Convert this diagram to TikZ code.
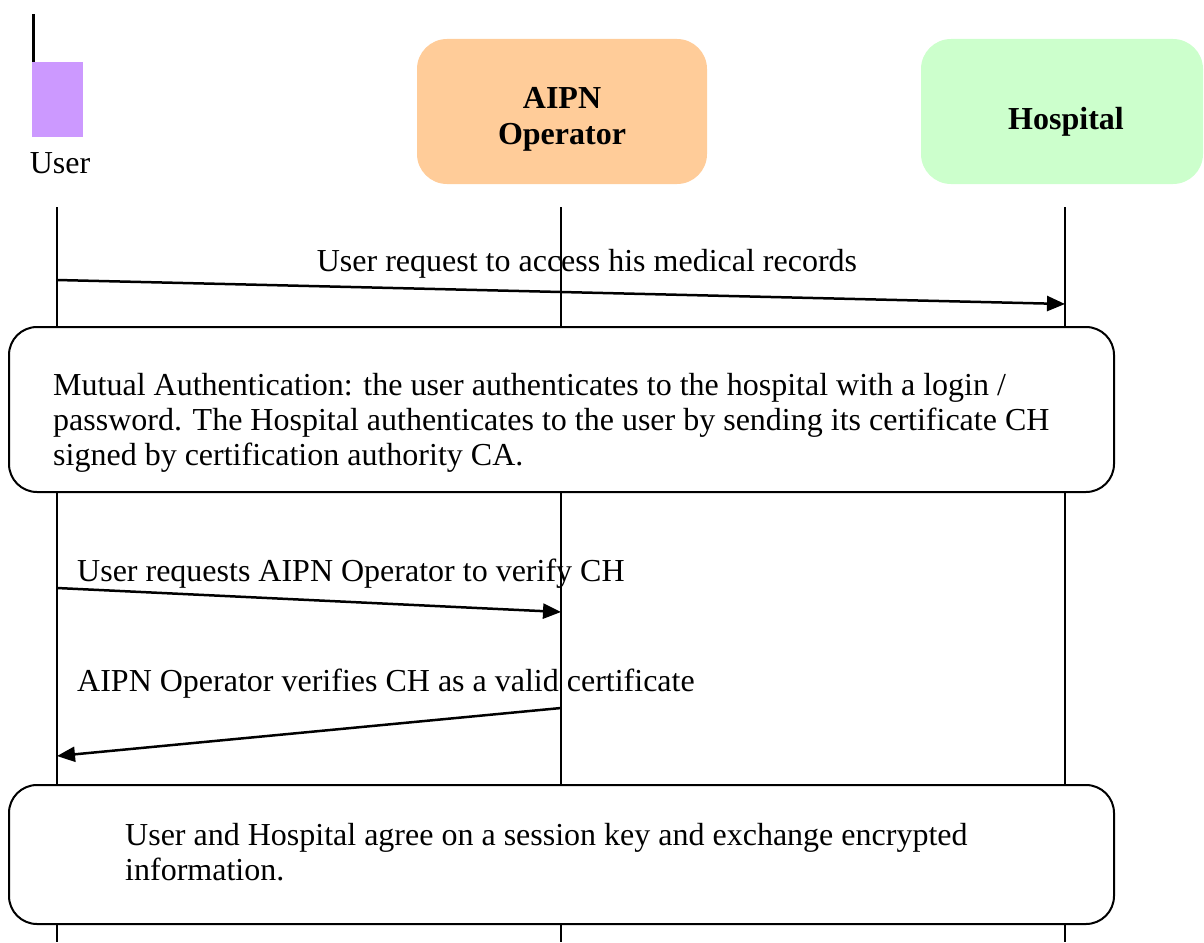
\documentclass[tikz,border=0pt]{standalone}
\usepackage{fontspec}
\setmainfont{Liberation Serif}
\usetikzlibrary{arrows.meta}
\definecolor{userpurple}{HTML}{CC99FF}
\definecolor{aipnorange}{HTML}{FFCC99}
\definecolor{hospgreen}{HTML}{CCFFCC}
\begin{document}
\begin{tikzpicture}[x=1pt,y=-1pt,
  headbox/.style={rounded corners=30pt, minimum height=145pt, inner sep=0pt},
  headlbl/.style={inner sep=0pt, align=center, font=\fontsize{32}{36}\selectfont\bfseries},
  life/.style={line width=1.5pt},
  msg/.style={line width=2.5pt, -{Triangle[length=18pt,width=15pt]}},
  notebox/.style={draw, line width=2pt, fill=white, rounded corners=28pt, inner sep=0pt},
  lbl/.style={font=\fontsize{32}{35}\selectfont, inner sep=0pt},
]
\useasboundingbox (0,0) rectangle (1204,942);

% heads
\node[fill=userpurple, minimum width=51pt, minimum height=75pt, inner sep=0pt] (user) at (57.5,99.5) {};
\draw[line width=3pt] ([xshift=1.5pt]user.north west) -- ++(0,-48);
\node[lbl, anchor=base] (userlbl) at (60,173) {User};
\node[headbox, fill=aipnorange, minimum width=290pt] (aipn) at (562,111.5) {};
\node[headlbl] (aipnlbl) at ([yshift=-8pt]aipn.center) {AIPN\\Operator};
\node[headbox, fill=hospgreen, minimum width=282pt] (hosp) at (1062,111.5) {};
\node[headlbl] (hosplbl) at ([xshift=4pt,yshift=-10pt]hosp.center) {Hospital};

% lifelines
\coordinate (uTop) at (57,207);  \coordinate (uBot) at (57,942);
\coordinate (aTop) at (561,207); \coordinate (aBot) at (561,942);
\coordinate (hTop) at (1065,207); \coordinate (hBot) at (1065,942);
\draw[life] (uTop) -- (uBot);
\draw[life] (aTop) -- (aBot);
\draw[life] (hTop) -- (hBot);

% message 1
\coordinate (m1s) at (57,280); \coordinate (m1e) at (1065,304);
\draw[msg] (m1s) -- (m1e);
\node[lbl, anchor=base] (m1l) at (587,271) {User request to access his medical records};

% note 1
\node[notebox, minimum width=1105pt, minimum height=165pt] (note1) at (561.5,409.5) {};
\node[lbl, anchor=base west] (n1a) at (53,395) {Mutual Authentication: the user authenticates to the hospital with a login /};
\node[lbl, anchor=base west] (n1b) at (53,430) {password. The Hospital authenticates to the user by sending its certificate CH};
\node[lbl, anchor=base west] (n1c) at (53,465) {signed by certification authority CA.};

% message 2
\coordinate (m2s) at (57,588); \coordinate (m2e) at (561,612);
\draw[msg] (m2s) -- (m2e);
\node[lbl, anchor=base west] (m2l) at (77,581) {User requests AIPN Operator to verify CH};

% message 3
\coordinate (m3s) at (561,708); \coordinate (m3e) at (57,756);
\draw[msg] (m3s) -- (m3e);
\node[lbl, anchor=base west] (m3l) at (77,691) {AIPN Operator verifies CH as a valid certificate};

% note 2
\node[notebox, minimum width=1105pt, minimum height=139pt] (note2) at (561.5,854.5) {};
\node[lbl, anchor=base west] (n2a) at (125,845) {User and Hospital agree on a session key and exchange encrypted};
\node[lbl, anchor=base west] (n2b) at (125,880) {information.};
\end{tikzpicture}
\end{document}
